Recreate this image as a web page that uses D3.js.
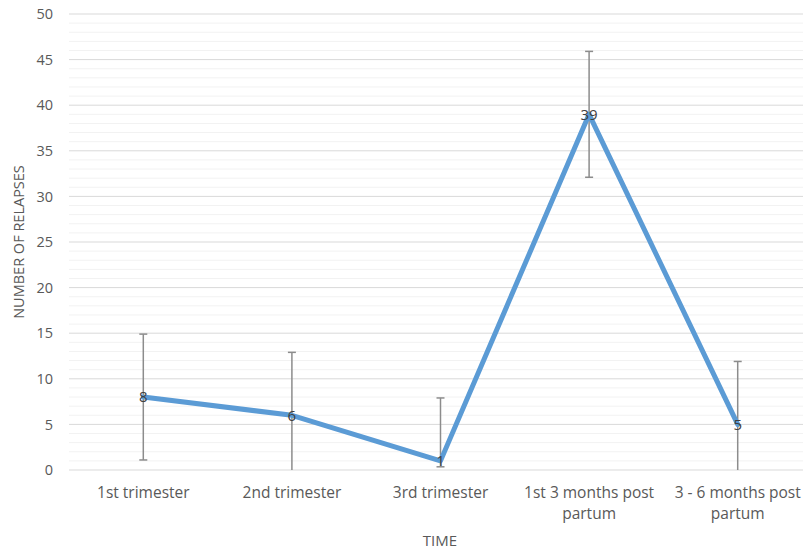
<!DOCTYPE html>
<html>
<head>
<meta charset="utf-8">
<script src="https://cdn.jsdelivr.net/npm/d3@7"></script>
<style>
  html, body { margin: 0; padding: 0; background: #fff; }
  svg { display: block; font-family: "Open Sans", "Liberation Sans", sans-serif; }
</style>
</head>
<body>
<svg id="chart" width="803" height="550"></svg>
<script>
const categories = ["1st trimester", "2nd trimester", "3rd trimester", "1st 3 months post partum", "3 - 6 months post partum"];
const relapses = [8, 6, 1, 39, 5];
const errLow = [1.1, 0, 0.35, 32.1, 0];
const errHigh = [14.9, 12.9, 7.9, 45.9, 11.9];
const lowCap = [true, false, true, true, false];
const yTicks = [0, 5, 10, 15, 20, 25, 30, 35, 40, 45, 50];
const yMinorTicks = d3.range(0, 51, 1);

const svg = d3.select("#chart");
const margin = { left: 69, top: 14, bottom: 80 };
const plotRight = 812;
const y0 = 470;

const x = d3.scaleBand().domain(categories).range([margin.left, plotRight]).padding(0);
const y = d3.scaleLinear().domain([0, 50]).range([y0, margin.top]);

// minor grid
svg.append("g").selectAll("line").data(yMinorTicks.filter(d => d % 5 !== 0)).join("line")
  .attr("x1", margin.left).attr("x2", 803)
  .attr("y1", d => y(d)).attr("y2", d => y(d))
  .attr("stroke", "#f2f2f2").attr("stroke-width", 1);

// major grid
svg.append("g").selectAll("line").data(yTicks).join("line")
  .attr("x1", margin.left).attr("x2", 803)
  .attr("y1", d => y(d)).attr("y2", d => y(d))
  .attr("stroke", "#d9d9d9").attr("stroke-width", 1);

// y axis labels
const yAxis = d3.axisLeft(y).tickValues(yTicks).tickSize(0).tickPadding(16);
const gy = svg.append("g").attr("transform", `translate(${margin.left},0)`).call(yAxis);
gy.select(".domain").remove();
gy.selectAll("text").attr("fill", "#595959").style("font-size", "14.5px")
  .style("font-family", "'Open Sans', sans-serif");

// x axis labels
const xAxis = d3.axisBottom(x).tickSize(0).tickPadding(0).tickFormat("");
const gx = svg.append("g").attr("transform", `translate(0,${y0})`).call(xAxis);
gx.select(".domain").remove();
const wrapLines = d => {
  if (d.length > 15) {
    const idx = d.lastIndexOf(" ");
    return [d.slice(0, idx), d.slice(idx + 1)];
  }
  return [d];
};
gx.selectAll(".tick").each(function(d) {
  const t = d3.select(this).append("text")
    .attr("fill", "#595959").style("font-size", "15.5px")
    .style("font-family", "'Open Sans', sans-serif")
    .attr("text-anchor", "middle");
  wrapLines(d).forEach((line, i) => {
    t.append("tspan").attr("x", 0).attr("y", 28 + i * 21).text(line);
  });
});

// error bars
const eb = svg.append("g");
categories.forEach((c, i) => {
  const cx = x(c) + x.bandwidth() / 2;
  eb.append("line").attr("x1", cx).attr("x2", cx)
    .attr("y1", y(errLow[i])).attr("y2", y(errHigh[i]))
    .attr("stroke", "#8c8c8c").attr("stroke-width", 1.5);
  eb.append("line").attr("x1", cx - 4).attr("x2", cx + 4)
    .attr("y1", y(errHigh[i])).attr("y2", y(errHigh[i]))
    .attr("stroke", "#8c8c8c").attr("stroke-width", 1.5);
  if (lowCap[i]) {
    eb.append("line").attr("x1", cx - 4).attr("x2", cx + 4)
      .attr("y1", y(errLow[i])).attr("y2", y(errLow[i]))
      .attr("stroke", "#8c8c8c").attr("stroke-width", 1.5);
  }
});

// line
const line = d3.line()
  .x((d, i) => x(categories[i]) + x.bandwidth() / 2)
  .y(d => y(d));
svg.append("path").datum(relapses)
  .attr("d", line)
  .attr("fill", "none")
  .attr("stroke", "#5b9bd5")
  .attr("stroke-width", 5)
  .attr("stroke-linejoin", "round")
  .attr("stroke-linecap", "round");

// data labels
svg.append("g").selectAll("text").data(relapses).join("text")
  .attr("x", (d, i) => x(categories[i]) + x.bandwidth() / 2)
  .attr("y", d => y(d))
  .attr("dy", "0.35em")
  .attr("text-anchor", "middle")
  .attr("fill", "#404040")
  .style("font-size", "15px")
  .text(d => d);

// axis titles
svg.append("text")
  .attr("transform", `translate(24,${(y0 + margin.top) / 2}) rotate(-90)`)
  .attr("text-anchor", "middle")
  .attr("fill", "#595959")
  .style("font-size", "14.5px")
  .text("NUMBER OF RELAPSES");

svg.append("text")
  .attr("x", 440).attr("y", 546)
  .attr("text-anchor", "middle")
  .attr("fill", "#595959")
  .style("font-size", "15px")
  .text("TIME");
</script>
</body>
</html>
